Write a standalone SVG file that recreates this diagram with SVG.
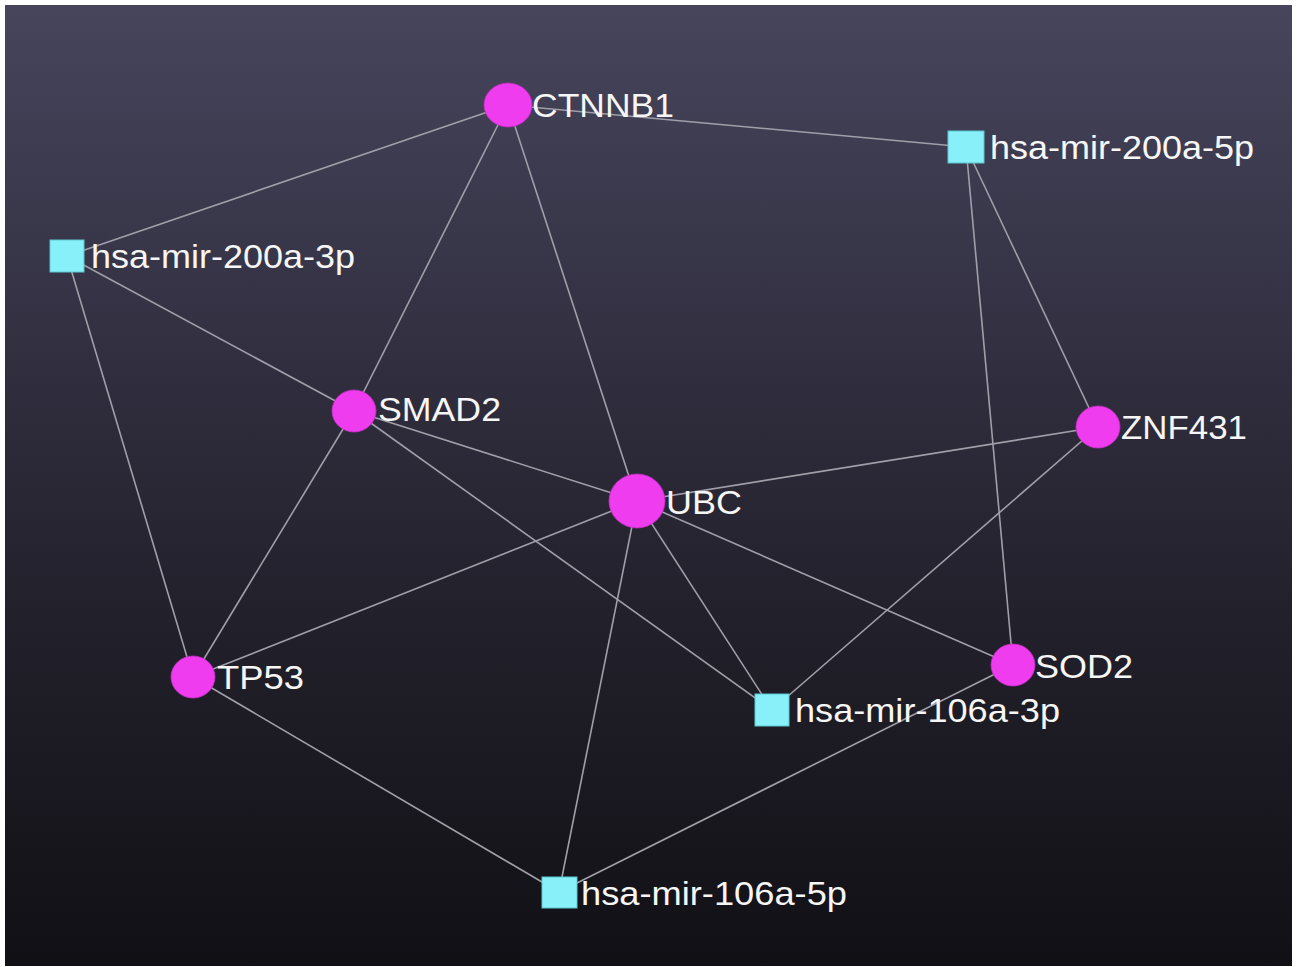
<svg xmlns="http://www.w3.org/2000/svg" width="1299" height="967" viewBox="0 0 1299 967">
<defs>
<linearGradient id="bg" x1="0" y1="0" x2="0" y2="1">
<stop offset="0" stop-color="#47455c"/>
<stop offset="0.3" stop-color="#353345"/>
<stop offset="0.6" stop-color="#24222d"/>
<stop offset="1" stop-color="#111015"/>
</linearGradient>
<style>
.e{stroke:#a09fa9;stroke-width:1.6;fill:none}
.g{fill:#ef3cef;stroke:#c030c0;stroke-width:0.8}
.m{fill:#88f0f8;stroke:#5cc8d0;stroke-width:1}
.t{font-family:"Liberation Sans",Arial,sans-serif;font-size:33px;fill:#f6f6f6}
</style>
</defs>
<rect x="0" y="0" width="1299" height="967" fill="#ffffff"/>
<rect x="5" y="5" width="1287" height="961" fill="url(#bg)"/>
<g id="edges">
<line class="e" x1="508" y1="105" x2="67" y2="256"/>
<line class="e" x1="508" y1="105" x2="966" y2="147"/>
<line class="e" x1="508" y1="105" x2="354" y2="411"/>
<line class="e" x1="508" y1="105" x2="637" y2="501"/>
<line class="e" x1="966" y1="147" x2="1098" y2="427"/>
<line class="e" x1="966" y1="147" x2="1013" y2="665"/>
<line class="e" x1="67" y1="256" x2="354" y2="411"/>
<line class="e" x1="67" y1="256" x2="193" y2="677"/>
<line class="e" x1="354" y1="411" x2="637" y2="501"/>
<line class="e" x1="354" y1="411" x2="193" y2="677"/>
<line class="e" x1="354" y1="411" x2="772" y2="710"/>
<line class="e" x1="637" y1="501" x2="1098" y2="427"/>
<line class="e" x1="637" y1="501" x2="193" y2="677"/>
<line class="e" x1="637" y1="501" x2="772" y2="710"/>
<line class="e" x1="637" y1="501" x2="1013" y2="665"/>
<line class="e" x1="637" y1="501" x2="559" y2="892"/>
<line class="e" x1="1098" y1="427" x2="772" y2="710"/>
<line class="e" x1="193" y1="677" x2="559" y2="892"/>
<line class="e" x1="1013" y1="665" x2="559" y2="892"/>
</g>
<g id="CTNNB1"><ellipse class="g" cx="508" cy="105" rx="24" ry="22"/><text class="t" x="532" y="117" textLength="142" lengthAdjust="spacingAndGlyphs">CTNNB1</text></g>
<g id="hsa-mir-200a-5p"><rect class="m" x="948" y="131" width="36" height="32"/><text class="t" x="990" y="159" textLength="264" lengthAdjust="spacingAndGlyphs">hsa-mir-200a-5p</text></g>
<g id="hsa-mir-200a-3p"><rect class="m" x="50" y="240" width="34" height="32"/><text class="t" x="91" y="268" textLength="264" lengthAdjust="spacingAndGlyphs">hsa-mir-200a-3p</text></g>
<g id="SMAD2"><ellipse class="g" cx="354" cy="411" rx="22" ry="21"/><text class="t" x="378" y="421" textLength="123" lengthAdjust="spacingAndGlyphs">SMAD2</text></g>
<g id="ZNF431"><ellipse class="g" cx="1098" cy="427" rx="22" ry="21"/><text class="t" x="1121" y="439" textLength="126" lengthAdjust="spacingAndGlyphs">ZNF431</text></g>
<g id="UBC"><ellipse class="g" cx="637" cy="501" rx="28" ry="27"/><text class="t" x="666" y="514" textLength="76" lengthAdjust="spacingAndGlyphs">UBC</text></g>
<g id="TP53"><ellipse class="g" cx="193" cy="677" rx="22" ry="21"/><text class="t" x="217" y="689" textLength="87" lengthAdjust="spacingAndGlyphs">TP53</text></g>
<g id="SOD2"><ellipse class="g" cx="1013" cy="665" rx="22" ry="21"/><text class="t" x="1035" y="678" textLength="98" lengthAdjust="spacingAndGlyphs">SOD2</text></g>
<g id="hsa-mir-106a-3p"><rect class="m" x="755" y="694" width="34" height="32"/><text class="t" x="795" y="722" textLength="265" lengthAdjust="spacingAndGlyphs">hsa-mir-106a-3p</text></g>
<g id="hsa-mir-106a-5p"><rect class="m" x="542" y="877" width="35" height="31"/><text class="t" x="581" y="905" textLength="266" lengthAdjust="spacingAndGlyphs">hsa-mir-106a-5p</text></g>
</svg>
